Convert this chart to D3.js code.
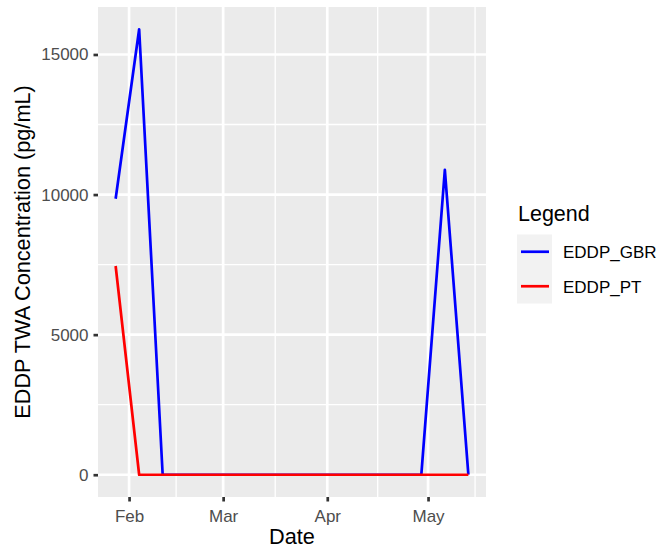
<!DOCTYPE html>
<html>
<head>
<meta charset="utf-8">
<script src="https://cdn.jsdelivr.net/npm/d3@7"></script>
<style>
  body { margin: 0; background: #fff; }
  text { font-family: "Liberation Sans", Arial, Helvetica, sans-serif; }
</style>
</head>
<body>
<script>
// sampling dates (weekly) and the two series
var dates = ["2021-01-28", "2021-02-04", "2021-02-11", "2021-02-18", "2021-02-25",
             "2021-03-04", "2021-03-11", "2021-03-18", "2021-03-25", "2021-04-01",
             "2021-04-08", "2021-04-15", "2021-04-22", "2021-04-29", "2021-05-06",
             "2021-05-13"];
var eddpGBR = [9850, 15900, 0, 0, 0, 0, 0, 0, 0, 0, 0, 0, 0, 0, 10880, 0];
var eddpPT  = [7450, 0, 0, 0, 0, 0, 0, 0, 0, 0, 0, 0, 0, 0, 0, 0];
var seriesNames = ["EDDP_GBR", "EDDP_PT"];
var seriesColors = ["#0000FF", "#FF0000"];
var yTicks = [0, 5000, 10000, 15000];
var monthTicks = ["2021-02-01", "2021-03-01", "2021-04-01", "2021-05-01"];

var width = 662, height = 553;
var panel = {left: 98, right: 486, top: 7, bottom: 497};

var parse = d3.utcParse("%Y-%m-%d");
var xDates = dates.map(parse);
var series = [eddpGBR, eddpPT].map(function(vals, i) {
  return {name: seriesNames[i], color: seriesColors[i],
          values: vals.map(function(v, j) { return {date: xDates[j], value: v}; })};
});

// ggplot-like 5% expansion
var xExt = d3.extent(xDates);
var xPad = (xExt[1] - xExt[0]) * 0.05;
var x = d3.scaleUtc()
          .domain([new Date(+xExt[0] - xPad), new Date(+xExt[1] + xPad)])
          .range([panel.left, panel.right]);

var yMax = d3.max(eddpGBR.concat(eddpPT));
var yPad = yMax * 0.05;
var y = d3.scaleLinear()
          .domain([-yPad, yMax + yPad])
          .range([panel.bottom, panel.top]);

var svg = d3.select("body").append("svg")
            .attr("width", width)
            .attr("height", height);

svg.append("rect").attr("width", width).attr("height", height).attr("fill", "#fff");

// panel background
svg.append("rect")
   .attr("x", panel.left).attr("y", panel.top)
   .attr("width", panel.right - panel.left)
   .attr("height", panel.bottom - panel.top)
   .attr("fill", "#EBEBEB");

var xMajor = monthTicks.map(parse);
// minor breaks: midpoints, extended by the first gap like ggplot
var gap = xMajor[1] - xMajor[0];
var xMinor = [];
var ext = [new Date(+xMajor[0] - gap)].concat(xMajor, [new Date(+xMajor[xMajor.length - 1] + gap)]);
for (var i = 0; i < ext.length - 1; i++) {
  var m = new Date((+ext[i] + +ext[i + 1]) / 2);
  if (m >= x.domain()[0] && m <= x.domain()[1]) xMinor.push(m);
}
var yMinor = [];
for (var k = 0; k < yTicks.length - 1; k++) yMinor.push((yTicks[k] + yTicks[k + 1]) / 2);

var grid = svg.append("g");
grid.selectAll(".ymin").data(yMinor).enter().append("line")
    .attr("x1", panel.left).attr("x2", panel.right)
    .attr("y1", function(d) { return y(d); }).attr("y2", function(d) { return y(d); })
    .attr("stroke", "#fff").attr("stroke-width", 1.35);
grid.selectAll(".xmin").data(xMinor).enter().append("line")
    .attr("y1", panel.top).attr("y2", panel.bottom)
    .attr("x1", function(d) { return x(d); }).attr("x2", function(d) { return x(d); })
    .attr("stroke", "#fff").attr("stroke-width", 1.35);
grid.selectAll(".ymaj").data(yTicks).enter().append("line")
    .attr("x1", panel.left).attr("x2", panel.right)
    .attr("y1", function(d) { return y(d); }).attr("y2", function(d) { return y(d); })
    .attr("stroke", "#fff").attr("stroke-width", 2.7);
grid.selectAll(".xmaj").data(xMajor).enter().append("line")
    .attr("y1", panel.top).attr("y2", panel.bottom)
    .attr("x1", function(d) { return x(d); }).attr("x2", function(d) { return x(d); })
    .attr("stroke", "#fff").attr("stroke-width", 2.7);

// lines
var line = d3.line()
             .x(function(d) { return x(d.date); })
             .y(function(d) { return y(d.value); });

svg.selectAll(".series").data(series).enter().append("path")
   .attr("d", function(d) { return line(d.values); })
   .attr("fill", "none")
   .attr("stroke", function(d) { return d.color; })
   .attr("stroke-width", 2.7)
   .attr("stroke-linejoin", "round");

// axes
var xAxis = svg.append("g")
   .attr("transform", "translate(0," + panel.bottom + ")")
   .call(d3.axisBottom(x).tickValues(xMajor).tickFormat(d3.utcFormat("%b"))
           .tickSize(4.5).tickPadding(8));
var yAxis = svg.append("g")
   .attr("transform", "translate(" + panel.left + ",0)")
   .call(d3.axisLeft(y).tickValues(yTicks).tickFormat(d3.format("d"))
           .tickSize(4.5).tickPadding(5));

[xAxis, yAxis].forEach(function(a) {
  a.select(".domain").remove();
  a.selectAll(".tick line").attr("stroke", "#333333").attr("stroke-width", 2.7);
  a.selectAll(".tick text").attr("fill", "#4D4D4D")
   .style("font-size", "17px")
   .style("font-family", "'Liberation Sans', Arial, sans-serif");
});

// axis titles
svg.append("text")
   .attr("x", (panel.left + panel.right) / 2).attr("y", 544)
   .attr("text-anchor", "middle")
   .style("font-size", "21.7px")
   .text("Date");

svg.append("text")
   .attr("transform", "translate(29.5," + ((panel.top + panel.bottom) / 2) + ") rotate(-90)")
   .attr("text-anchor", "middle")
   .style("font-size", "21.7px")
   .text("EDDP TWA Concentration (pg/mL)");

// legend
var legend = svg.append("g").attr("transform", "translate(517,0)");
legend.append("text")
      .attr("x", 1).attr("y", 221)
      .style("font-size", "21.5px")
      .text("Legend");

var keys = legend.selectAll(".key").data(series).enter().append("g")
      .attr("transform", function(d, i) { return "translate(0," + (234.5 + i * 34.5) + ")"; });
keys.append("rect")
    .attr("width", 35).attr("height", 34.5)
    .attr("fill", "#F2F2F2");
keys.append("line")
    .attr("x1", 4).attr("x2", 32)
    .attr("y1", 17.25).attr("y2", 17.25)
    .attr("stroke", function(d) { return d.color; })
    .attr("stroke-width", 2.7);
keys.append("text")
    .attr("x", 46).attr("y", 23.5)
    .attr("fill", "#000")
    .style("font-size", "17px")
    .text(function(d) { return d.name; });
</script>
</body>
</html>
